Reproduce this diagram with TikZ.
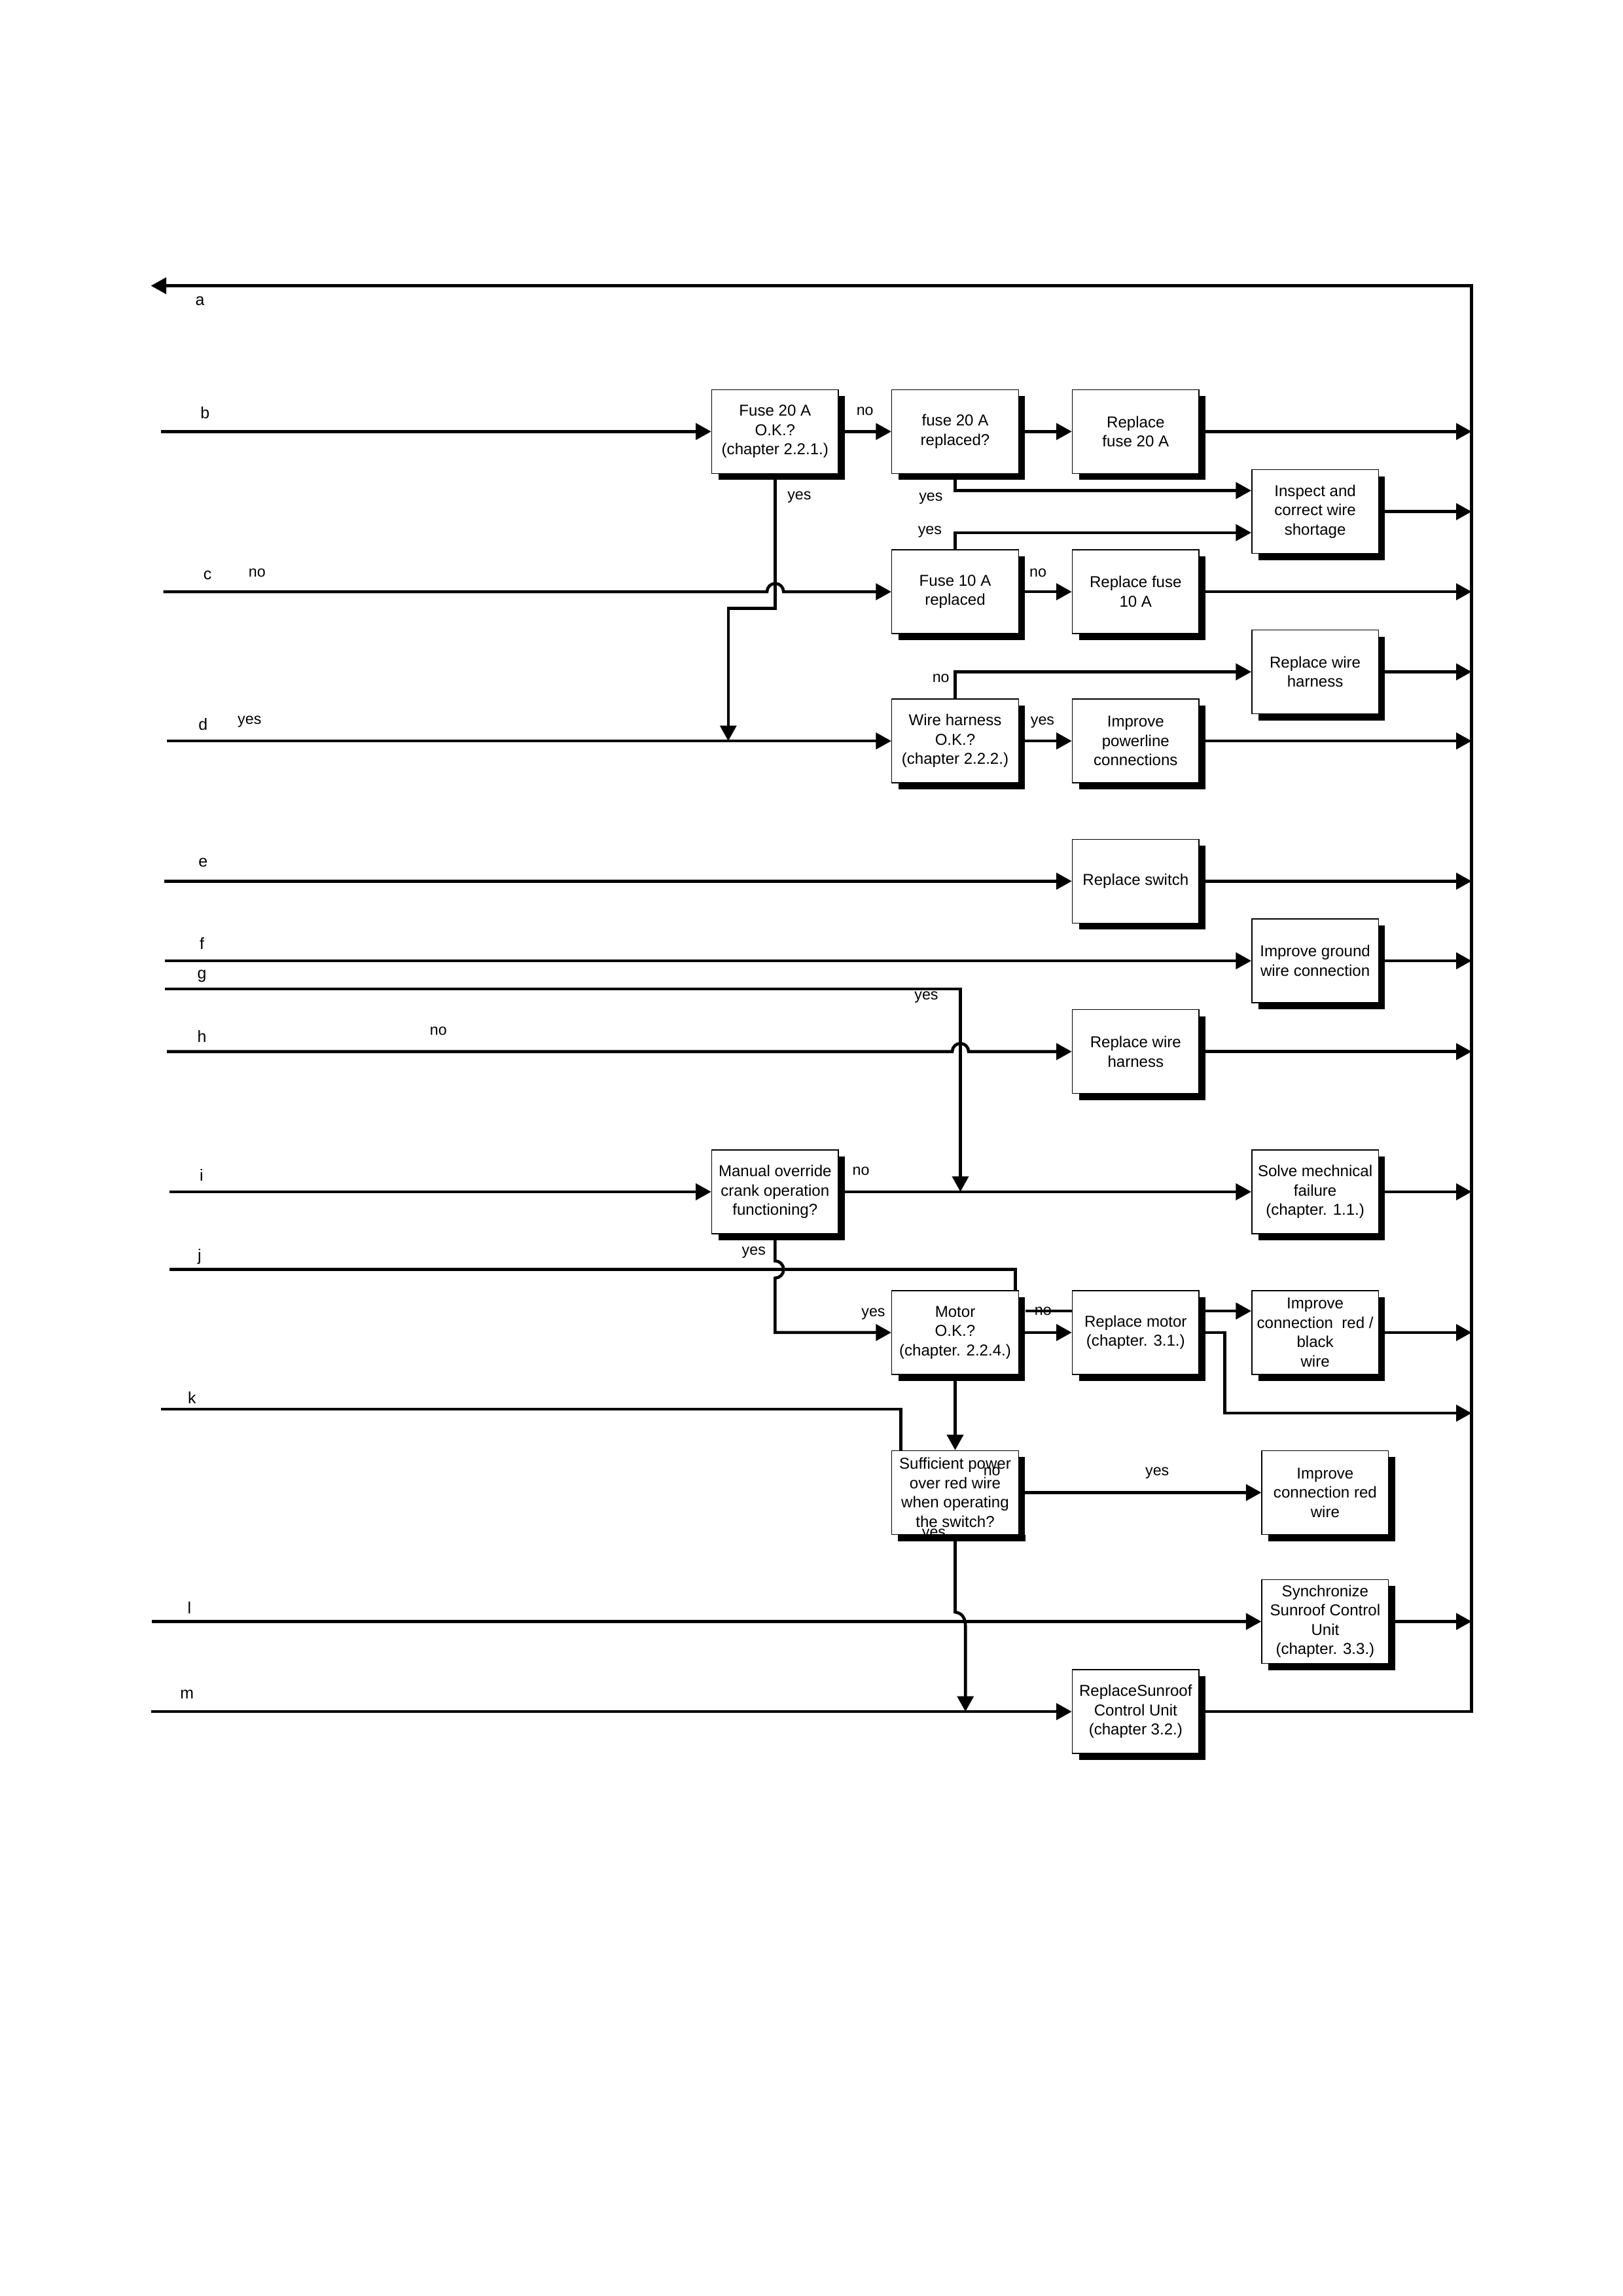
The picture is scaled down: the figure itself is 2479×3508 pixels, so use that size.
\documentclass[tikz,border=0pt]{standalone}
\usepackage{fontspec}
\setmainfont{Liberation Sans}
\usetikzlibrary{arrows.meta,shadows}
\begin{document}
\begin{tikzpicture}[x=0.084712mm,y=-0.084712mm,
  box/.style={draw=black, line width=0.35pt, fill=white, minimum width=16.4mm, minimum height=10.85mm, inner sep=0pt, align=center, font=\fontsize{5.8}{7.1}\selectfont, drop shadow={shadow xshift=0.85mm, shadow yshift=-0.85mm, opacity=1, fill=black}},
  ln/.style={line width=0.39mm},
  arr/.style={ln, -{Triangle[length=2mm,width=2.1mm]}},
  lab/.style={inner sep=0pt, font=\fontsize{5.6}{6.5}\selectfont},
  letter/.style={inner sep=0pt, font=\fontsize{6}{7}\selectfont}]
\useasboundingbox (0,0) rectangle (2479,3508);

% boxes
\node[box] (F20) at (1184.3,659.3) {Fuse 20 A\\O.K.?\\(chapter 2.2.1.)};
\node[box] (F20R) at (1459.5,659.3) {fuse 20 A\\replaced?};
\node[box] (RF20) at (1735.3,659.3) {Replace\\fuse 20 A};
\node[box] (INS) at (2009.6,781.7) {Inspect and\\correct wire\\shortage};
\node[box] (F10) at (1459.5,904.1) {Fuse 10 A\\replaced};
\node[box] (RF10) at (1735.3,904.1) {Replace fuse\\10 A};
\node[box] (RWH1) at (2009.6,1026.5) {Replace wire\\harness};
\node[box] (WH) at (1459.5,1132.1) {Wire harness\\O.K.?\\(chapter 2.2.2.)};
\node[box] (IPL) at (1735.3,1132.1) {Improve\\powerline\\connections};
\node[box] (RSW) at (1735.3,1346.3) {Replace switch};
\node[box] (IGW) at (2009.6,1468) {Improve ground\\wire connection};
\node[box] (RWH2) at (1735.3,1606.7) {Replace wire\\harness};
\node[box] (MAN) at (1184.3,1820.9) {Manual override\\crank operation\\functioning?};
\node[box] (SMF) at (2009.6,1820.9) {Solve mechnical\\failure\\(chapter. 1.1.)};
\node[box] (MOT) at (1459.5,2035.9) {Motor\\O.K.?\\(chapter. 2.2.4.)};
\node[box] (RMOT) at (1735.3,2035.9) {Replace motor\\(chapter. 3.1.)};
\node[box] (ICRB) at (2009.6,2035.9) {Improve\\connection\ \ red /\\black\\wire};
\node[box] (SUF) at (1459.5,2280.4) {Sufficient power\\over red wire\\when operating\\the switch?};
\node[box] (ICR) at (2024.9,2280.4) {Improve\\connection red\\wire};
\node[box] (SYN) at (2024.9,2477.4) {Synchronize\\Sunroof Control\\Unit\\(chapter. 3.3.)};
\node[box] (RSU) at (1735.3,2615.1) {ReplaceSunroof\\Control Unit\\(chapter 3.2.)};

% coordinates
\coordinate (Rx) at (2248.7,436.6);
\coordinate (a0) at (230.6,436.6);
\coordinate (b0) at (245.9,659.3);
\coordinate (c0) at (249.7,904.1);
\coordinate (d0) at (255.1,1132.1);
\coordinate (e0) at (251.3,1346.3);
\coordinate (f0) at (252,1468);
\coordinate (g0) at (252,1510.8);
\coordinate (h0) at (255.1,1606.7);
\coordinate (i0) at (258.9,1820.9);
\coordinate (j0) at (258.9,1939.5);
\coordinate (k0) at (245.9,2153);
\coordinate (l0) at (232.1,2477.4);
\coordinate (m0) at (230.6,2615.1);
\coordinate (dj) at (1112.8,1132.1);
\coordinate (gi) at (1467.5,1820.9);
\coordinate (byp) at (2248.7,2159.1);
\coordinate (sm) at (1475.2,2615.1);
\path (INS.west) ++(0,-32.2) coordinate (ins1);
\path (INS.west) ++(0,32.1) coordinate (ins2);
\path (MOT.north east) ++(-5.4,0) coordinate (jm);
\path (SUF.north west) ++(14.5,0) coordinate (km);
\path (MOT.east) ++(9.5,-32.9) coordinate (mn1);
\path (RMOT.east) ++(0,-32.9) coordinate (rm1);

% return loop a
\draw[arr] (RSU.east) -- (RSU.east -| Rx) -- (Rx) -- (a0);

% b
\draw[arr] (b0) -- (F20.west);
\draw[arr] (F20.east) -- (F20R.west);
\draw[arr] (F20R.east) -- (RF20.west);
\draw[arr] (RF20.east) -- (RF20.east -| Rx);
\draw[arr] (F20R.south) |- (ins1);
\draw[arr] (INS.east) -- (INS.east -| Rx);
\draw[arr] (F20.south) -- ++(0,205.3) -| (dj);

% c
\draw[arr] (c0) -- (1172,904.1) arc[start angle=180,end angle=0,radius=1.07mm] -- (F10.west);
\draw[arr] (F10.north) |- (ins2);
\draw[arr] (F10.east) -- (RF10.west);
\draw[arr] (RF10.east) -- (RF10.east -| Rx);

% d
\draw[arr] (d0) -- (WH.west);
\draw[arr] (WH.north) |- (RWH1.west);
\draw[arr] (RWH1.east) -- (RWH1.east -| Rx);
\draw[arr] (WH.east) -- (IPL.west);
\draw[arr] (IPL.east) -- (IPL.east -| Rx);

% e, f
\draw[arr] (e0) -- (RSW.west);
\draw[arr] (RSW.east) -- (RSW.east -| Rx);
\draw[arr] (f0) -- (IGW.west);
\draw[arr] (IGW.east) -- (IGW.east -| Rx);

% g, h
\draw[arr] (g0) -| (gi);
\draw[arr] (h0) -- (1455,1606.7) arc[start angle=180,end angle=0,radius=1.06mm] -- (RWH2.west);
\draw[arr] (RWH2.east) -- (RWH2.east -| Rx);

% i
\draw[arr] (i0) -- (MAN.west);
\draw[arr] (MAN.east) -- (SMF.west);
\draw[arr] (SMF.east) -- (SMF.east -| Rx);
\draw[arr] (MAN.south) -- (1184.3,1926.5) arc[start angle=90,end angle=-90,radius=1.11mm] -- (1184.3,2035.9) -- (MOT.west);

% j
\draw[ln] (j0) -| (jm);
\draw[arr] (MOT.east) -- (RMOT.west);
\draw[ln] (mn1) -- (mn1 -| RMOT.west);
\draw[arr] (rm1) -- (rm1 -| ICRB.west);
\draw[arr] (RMOT.east) -- ++(38.9,0) |- (byp);
\draw[arr] (ICRB.east) -- (ICRB.east -| Rx);
\draw[arr] (MOT.south) -- (SUF.north);

% k
\draw[ln] (k0) -| (km);
\draw[arr] (SUF.east) -- (ICR.west);
\draw[arr] (SUF.south) -- (1459.5,2463) .. controls (1471,2465) and (1476,2472) .. (1475.2,2490) -- (sm);

% l, m
\draw[arr] (l0) -- (SYN.west);
\draw[arr] (SYN.east) -- (SYN.east -| Rx);
\draw[arr] (m0) -- (RSU.west);

% left letters
\node[letter] (la) at (305.6,460.3) {a};
\node[letter] (lb) at (313.2,631) {b};
\node[letter] (lc) at (317,878.8) {c};
\node[letter] (ld) at (310.2,1106.9) {d};
\node[letter] (le) at (310.2,1318) {e};
\node[letter] (lf) at (308.6,1441.2) {f};
\node[letter] (lg) at (308.6,1491.7) {g};
\node[letter] (lh) at (308.6,1583) {h};
\node[letter] (li) at (307.9,1795.7) {i};
\node[letter] (lj) at (304.8,1919.6) {j};
\node[letter] (lk) at (293.3,2135.4) {k};
\node[letter] (ll) at (289.5,2456.7) {l};
\node[letter] (lm) at (285.7,2588.3) {m};

% yes / no labels
\node[lab] (n1) at (392.8,875.8) {no};
\node[lab] (y1) at (381.3,1103) {yes};
\node[lab] (n2) at (669.8,1575.3) {no};
\node[lab] (n3) at (1321.7,628.7) {no};
\node[lab] (y2) at (1221.4,759.5) {yes};
\node[lab] (y3) at (1422.4,761.8) {yes};
\node[lab] (y4) at (1420.9,812.3) {yes};
\node[lab] (n4) at (1586.1,875.8) {no};
\node[lab] (n5) at (1437.7,1036.5) {no};
\node[lab] (y5) at (1593,1103.8) {yes};
\node[lab] (y6) at (1415.5,1523.8) {yes};
\node[lab] (n6) at (1315.5,1789.5) {no};
\node[lab] (y7) at (1151.8,1913.5) {yes};
\node[lab] (y8) at (1334.5,2007.6) {yes};
\node[lab] (n7) at (1593.8,2003.7) {no};
\node[lab] (n8) at (1515.7,2248.6) {no};
\node[lab] (y9) at (1768.2,2250.9) {yes};
\node[lab] (y10) at (1427,2344.2) {yes};
% shadow strip of SUF over its "yes"
\fill[black] ([xshift=0.85mm]SUF.south west) rectangle ([xshift=0.85mm,yshift=-0.85mm]SUF.south east);
\end{tikzpicture}
\end{document}
